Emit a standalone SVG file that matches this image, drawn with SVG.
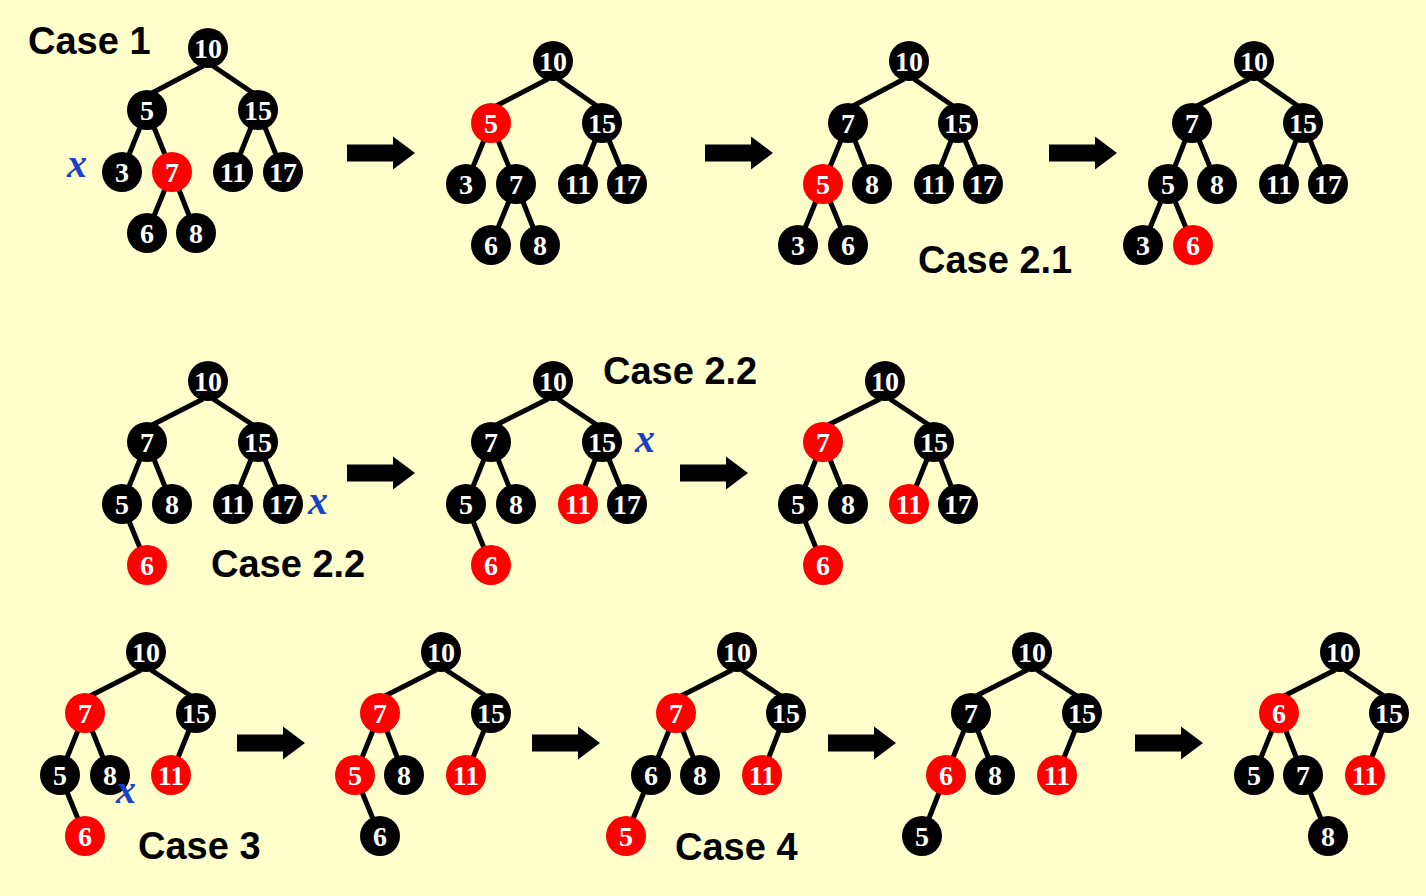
<svg xmlns="http://www.w3.org/2000/svg" xmlns:xlink="http://www.w3.org/1999/xlink" width="1426" height="896" viewBox="0 0 1426 896">
<style>
.b circle{fill:#000}
.r circle{fill:#ff0000}
.node text{font-family:"Liberation Serif","Times New Roman",serif;font-weight:bold;font-size:28px;fill:#fff;text-anchor:middle}
.edges line{stroke:#000;stroke-width:5}
.case{font-family:"Liberation Sans",Arial,sans-serif;font-weight:bold;font-size:38px;fill:#000}
.x{font-family:"Liberation Serif","Times New Roman",serif;font-weight:bold;font-style:italic;font-size:40px;fill:#1a40c8}
</style>
<defs>
<path id="arr" d="M0,-8.5 H46 V-16.5 L68,0 L46,16.5 V8.5 H0 Z" fill="#000"/>
</defs>
<rect width="1426" height="896" fill="#ffffcc"/>
<g id="connectors" class="edges">
<!-- T1 -->
<line x1="203" y1="66" x2="152" y2="93"/><line x1="213" y1="66" x2="253" y2="93"/>
<line x1="147" y1="110" x2="122" y2="172"/><line x1="147" y1="110" x2="172" y2="172"/>
<line x1="258" y1="110" x2="233" y2="172"/><line x1="258" y1="110" x2="283" y2="172"/>
<line x1="172" y1="172" x2="147" y2="233"/><line x1="172" y1="172" x2="196" y2="233"/>
<!-- T2 -->
<line x1="548" y1="79" x2="496" y2="106"/><line x1="558" y1="79" x2="597" y2="106"/>
<line x1="491" y1="123" x2="466" y2="184"/><line x1="491" y1="123" x2="516" y2="184"/>
<line x1="602" y1="123" x2="578" y2="184"/><line x1="602" y1="123" x2="627" y2="184"/>
<line x1="516" y1="184" x2="491" y2="245"/><line x1="516" y1="184" x2="540" y2="245"/>
<!-- T3 -->
<line x1="904" y1="79" x2="853" y2="106"/><line x1="914" y1="79" x2="953" y2="106"/>
<line x1="848" y1="123" x2="823" y2="184"/><line x1="848" y1="123" x2="872" y2="184"/>
<line x1="958" y1="123" x2="934" y2="184"/><line x1="958" y1="123" x2="983" y2="184"/>
<line x1="823" y1="184" x2="798" y2="245"/><line x1="823" y1="184" x2="848" y2="245"/>
<!-- T4 -->
<line x1="1249" y1="79" x2="1197" y2="106"/><line x1="1259" y1="79" x2="1298" y2="106"/>
<line x1="1192" y1="123" x2="1168" y2="184"/><line x1="1192" y1="123" x2="1217" y2="184"/>
<line x1="1303" y1="123" x2="1279" y2="184"/><line x1="1303" y1="123" x2="1328" y2="184"/>
<line x1="1168" y1="184" x2="1143" y2="245"/><line x1="1168" y1="184" x2="1193" y2="245"/>
<!-- T5 -->
<line x1="203" y1="399" x2="152" y2="425"/><line x1="213" y1="399" x2="253" y2="425"/>
<line x1="147" y1="442" x2="122" y2="504"/><line x1="147" y1="442" x2="172" y2="504"/>
<line x1="258" y1="442" x2="233" y2="504"/><line x1="258" y1="442" x2="283" y2="504"/>
<line x1="122" y1="504" x2="147" y2="565"/>
<!-- T6 -->
<line x1="548" y1="399" x2="496" y2="425"/><line x1="558" y1="399" x2="597" y2="425"/>
<line x1="491" y1="442" x2="466" y2="504"/><line x1="491" y1="442" x2="516" y2="504"/>
<line x1="602" y1="442" x2="578" y2="504"/><line x1="602" y1="442" x2="627" y2="504"/>
<line x1="466" y1="504" x2="491" y2="565"/>
<!-- T7 -->
<line x1="880" y1="399" x2="828" y2="425"/><line x1="890" y1="399" x2="929" y2="425"/>
<line x1="823" y1="442" x2="798" y2="504"/><line x1="823" y1="442" x2="848" y2="504"/>
<line x1="934" y1="442" x2="909" y2="504"/><line x1="934" y1="442" x2="958" y2="504"/>
<line x1="798" y1="504" x2="823" y2="565"/>
<!-- T8 -->
<line x1="141" y1="670" x2="90" y2="696"/><line x1="151" y1="670" x2="191" y2="696"/>
<line x1="85" y1="713" x2="60" y2="775"/><line x1="85" y1="713" x2="110" y2="775"/>
<line x1="196" y1="713" x2="171" y2="775"/>
<line x1="60" y1="775" x2="85" y2="836"/>
<!-- T9 -->
<line x1="436" y1="670" x2="385" y2="696"/><line x1="446" y1="670" x2="486" y2="696"/>
<line x1="380" y1="713" x2="355" y2="775"/><line x1="380" y1="713" x2="404" y2="775"/>
<line x1="491" y1="713" x2="466" y2="775"/>
<line x1="355" y1="775" x2="380" y2="836"/>
<!-- T10 -->
<line x1="732" y1="670" x2="681" y2="696"/><line x1="742" y1="670" x2="781" y2="696"/>
<line x1="676" y1="713" x2="651" y2="775"/><line x1="676" y1="713" x2="700" y2="775"/>
<line x1="786" y1="713" x2="762" y2="775"/>
<line x1="651" y1="775" x2="626" y2="836"/>
<!-- T11 -->
<line x1="1027" y1="670" x2="976" y2="696"/><line x1="1037" y1="670" x2="1077" y2="696"/>
<line x1="971" y1="713" x2="946" y2="775"/><line x1="971" y1="713" x2="995" y2="775"/>
<line x1="1082" y1="713" x2="1057" y2="775"/>
<line x1="946" y1="775" x2="922" y2="836"/>
<!-- T12 -->
<line x1="1335" y1="670" x2="1284" y2="696"/><line x1="1345" y1="670" x2="1384" y2="696"/>
<line x1="1279" y1="713" x2="1254" y2="775"/><line x1="1279" y1="713" x2="1303" y2="775"/>
<line x1="1389" y1="713" x2="1365" y2="775"/>
<line x1="1303" y1="775" x2="1328" y2="836"/>
</g>
<g id="arrows">
<use xlink:href="#arr" x="347" y="153"/>
<use xlink:href="#arr" x="705" y="153"/>
<use xlink:href="#arr" x="1049" y="153"/>
<use xlink:href="#arr" x="347" y="473"/>
<use xlink:href="#arr" x="680" y="473"/>
<use xlink:href="#arr" x="237" y="743"/>
<use xlink:href="#arr" x="532" y="743"/>
<use xlink:href="#arr" x="828" y="743"/>
<use xlink:href="#arr" x="1135" y="743"/>
</g>
<!-- T1 -->
<g id="t1-10" class="node b"><circle cx="208" cy="48" r="20"/><text x="208" y="58">10</text></g>
<g id="t1-5" class="node b"><circle cx="147" cy="110" r="20"/><text x="147" y="120">5</text></g>
<g id="t1-15" class="node b"><circle cx="258" cy="110" r="20"/><text x="258" y="120">15</text></g>
<g id="t1-3" class="node b"><circle cx="122" cy="172" r="20"/><text x="122" y="182">3</text></g>
<g id="t1-7" class="node r"><circle cx="172" cy="172" r="20"/><text x="172" y="182">7</text></g>
<g id="t1-11" class="node b"><circle cx="233" cy="172" r="20"/><text x="233" y="182">11</text></g>
<g id="t1-17" class="node b"><circle cx="283" cy="172" r="20"/><text x="283" y="182">17</text></g>
<g id="t1-6" class="node b"><circle cx="147" cy="233" r="20"/><text x="147" y="243">6</text></g>
<g id="t1-8" class="node b"><circle cx="196" cy="233" r="20"/><text x="196" y="243">8</text></g>
<!-- T2 -->
<g id="t2-10" class="node b"><circle cx="553" cy="61" r="20"/><text x="553" y="71">10</text></g>
<g id="t2-5" class="node r"><circle cx="491" cy="123" r="20"/><text x="491" y="133">5</text></g>
<g id="t2-15" class="node b"><circle cx="602" cy="123" r="20"/><text x="602" y="133">15</text></g>
<g id="t2-3" class="node b"><circle cx="466" cy="184" r="20"/><text x="466" y="194">3</text></g>
<g id="t2-7" class="node b"><circle cx="516" cy="184" r="20"/><text x="516" y="194">7</text></g>
<g id="t2-11" class="node b"><circle cx="578" cy="184" r="20"/><text x="578" y="194">11</text></g>
<g id="t2-17" class="node b"><circle cx="627" cy="184" r="20"/><text x="627" y="194">17</text></g>
<g id="t2-6" class="node b"><circle cx="491" cy="245" r="20"/><text x="491" y="255">6</text></g>
<g id="t2-8" class="node b"><circle cx="540" cy="245" r="20"/><text x="540" y="255">8</text></g>
<!-- T3 -->
<g id="t3-10" class="node b"><circle cx="909" cy="61" r="20"/><text x="909" y="71">10</text></g>
<g id="t3-7" class="node b"><circle cx="848" cy="123" r="20"/><text x="848" y="133">7</text></g>
<g id="t3-15" class="node b"><circle cx="958" cy="123" r="20"/><text x="958" y="133">15</text></g>
<g id="t3-5" class="node r"><circle cx="823" cy="184" r="20"/><text x="823" y="194">5</text></g>
<g id="t3-8" class="node b"><circle cx="872" cy="184" r="20"/><text x="872" y="194">8</text></g>
<g id="t3-11" class="node b"><circle cx="934" cy="184" r="20"/><text x="934" y="194">11</text></g>
<g id="t3-17" class="node b"><circle cx="983" cy="184" r="20"/><text x="983" y="194">17</text></g>
<g id="t3-3" class="node b"><circle cx="798" cy="245" r="20"/><text x="798" y="255">3</text></g>
<g id="t3-6" class="node b"><circle cx="848" cy="245" r="20"/><text x="848" y="255">6</text></g>
<!-- T4 -->
<g id="t4-10" class="node b"><circle cx="1254" cy="61" r="20"/><text x="1254" y="71">10</text></g>
<g id="t4-7" class="node b"><circle cx="1192" cy="123" r="20"/><text x="1192" y="133">7</text></g>
<g id="t4-15" class="node b"><circle cx="1303" cy="123" r="20"/><text x="1303" y="133">15</text></g>
<g id="t4-5" class="node b"><circle cx="1168" cy="184" r="20"/><text x="1168" y="194">5</text></g>
<g id="t4-8" class="node b"><circle cx="1217" cy="184" r="20"/><text x="1217" y="194">8</text></g>
<g id="t4-11" class="node b"><circle cx="1279" cy="184" r="20"/><text x="1279" y="194">11</text></g>
<g id="t4-17" class="node b"><circle cx="1328" cy="184" r="20"/><text x="1328" y="194">17</text></g>
<g id="t4-3" class="node b"><circle cx="1143" cy="245" r="20"/><text x="1143" y="255">3</text></g>
<g id="t4-6" class="node r"><circle cx="1193" cy="245" r="20"/><text x="1193" y="255">6</text></g>
<!-- T5 -->
<g id="t5-10" class="node b"><circle cx="208" cy="381" r="20"/><text x="208" y="391">10</text></g>
<g id="t5-7" class="node b"><circle cx="147" cy="442" r="20"/><text x="147" y="452">7</text></g>
<g id="t5-15" class="node b"><circle cx="258" cy="442" r="20"/><text x="258" y="452">15</text></g>
<g id="t5-5" class="node b"><circle cx="122" cy="504" r="20"/><text x="122" y="514">5</text></g>
<g id="t5-8" class="node b"><circle cx="172" cy="504" r="20"/><text x="172" y="514">8</text></g>
<g id="t5-11" class="node b"><circle cx="233" cy="504" r="20"/><text x="233" y="514">11</text></g>
<g id="t5-17" class="node b"><circle cx="283" cy="504" r="20"/><text x="283" y="514">17</text></g>
<g id="t5-6" class="node r"><circle cx="147" cy="565" r="20"/><text x="147" y="575">6</text></g>
<!-- T6 -->
<g id="t6-10" class="node b"><circle cx="553" cy="381" r="20"/><text x="553" y="391">10</text></g>
<g id="t6-7" class="node b"><circle cx="491" cy="442" r="20"/><text x="491" y="452">7</text></g>
<g id="t6-15" class="node b"><circle cx="602" cy="442" r="20"/><text x="602" y="452">15</text></g>
<g id="t6-5" class="node b"><circle cx="466" cy="504" r="20"/><text x="466" y="514">5</text></g>
<g id="t6-8" class="node b"><circle cx="516" cy="504" r="20"/><text x="516" y="514">8</text></g>
<g id="t6-11" class="node r"><circle cx="578" cy="504" r="20"/><text x="578" y="514">11</text></g>
<g id="t6-17" class="node b"><circle cx="627" cy="504" r="20"/><text x="627" y="514">17</text></g>
<g id="t6-6" class="node r"><circle cx="491" cy="565" r="20"/><text x="491" y="575">6</text></g>
<!-- T7 -->
<g id="t7-10" class="node b"><circle cx="885" cy="381" r="20"/><text x="885" y="391">10</text></g>
<g id="t7-7" class="node r"><circle cx="823" cy="442" r="20"/><text x="823" y="452">7</text></g>
<g id="t7-15" class="node b"><circle cx="934" cy="442" r="20"/><text x="934" y="452">15</text></g>
<g id="t7-5" class="node b"><circle cx="798" cy="504" r="20"/><text x="798" y="514">5</text></g>
<g id="t7-8" class="node b"><circle cx="848" cy="504" r="20"/><text x="848" y="514">8</text></g>
<g id="t7-11" class="node r"><circle cx="909" cy="504" r="20"/><text x="909" y="514">11</text></g>
<g id="t7-17" class="node b"><circle cx="958" cy="504" r="20"/><text x="958" y="514">17</text></g>
<g id="t7-6" class="node r"><circle cx="823" cy="565" r="20"/><text x="823" y="575">6</text></g>
<!-- T8 -->
<g id="t8-10" class="node b"><circle cx="146" cy="652" r="20"/><text x="146" y="662">10</text></g>
<g id="t8-7" class="node r"><circle cx="85" cy="713" r="20"/><text x="85" y="723">7</text></g>
<g id="t8-15" class="node b"><circle cx="196" cy="713" r="20"/><text x="196" y="723">15</text></g>
<g id="t8-5" class="node b"><circle cx="60" cy="775" r="20"/><text x="60" y="785">5</text></g>
<g id="t8-8" class="node b"><circle cx="110" cy="775" r="20"/><text x="110" y="785">8</text></g>
<g id="t8-11" class="node r"><circle cx="171" cy="775" r="20"/><text x="171" y="785">11</text></g>
<g id="t8-6" class="node r"><circle cx="85" cy="836" r="20"/><text x="85" y="846">6</text></g>
<!-- T9 -->
<g id="t9-10" class="node b"><circle cx="441" cy="652" r="20"/><text x="441" y="662">10</text></g>
<g id="t9-7" class="node r"><circle cx="380" cy="713" r="20"/><text x="380" y="723">7</text></g>
<g id="t9-15" class="node b"><circle cx="491" cy="713" r="20"/><text x="491" y="723">15</text></g>
<g id="t9-5" class="node r"><circle cx="355" cy="775" r="20"/><text x="355" y="785">5</text></g>
<g id="t9-8" class="node b"><circle cx="404" cy="775" r="20"/><text x="404" y="785">8</text></g>
<g id="t9-11" class="node r"><circle cx="466" cy="775" r="20"/><text x="466" y="785">11</text></g>
<g id="t9-6" class="node b"><circle cx="380" cy="836" r="20"/><text x="380" y="846">6</text></g>
<!-- T10 -->
<g id="t10-10" class="node b"><circle cx="737" cy="652" r="20"/><text x="737" y="662">10</text></g>
<g id="t10-7" class="node r"><circle cx="676" cy="713" r="20"/><text x="676" y="723">7</text></g>
<g id="t10-15" class="node b"><circle cx="786" cy="713" r="20"/><text x="786" y="723">15</text></g>
<g id="t10-6" class="node b"><circle cx="651" cy="775" r="20"/><text x="651" y="785">6</text></g>
<g id="t10-8" class="node b"><circle cx="700" cy="775" r="20"/><text x="700" y="785">8</text></g>
<g id="t10-11" class="node r"><circle cx="762" cy="775" r="20"/><text x="762" y="785">11</text></g>
<g id="t10-5" class="node r"><circle cx="626" cy="836" r="20"/><text x="626" y="846">5</text></g>
<!-- T11 -->
<g id="t11-10" class="node b"><circle cx="1032" cy="652" r="20"/><text x="1032" y="662">10</text></g>
<g id="t11-7" class="node b"><circle cx="971" cy="713" r="20"/><text x="971" y="723">7</text></g>
<g id="t11-15" class="node b"><circle cx="1082" cy="713" r="20"/><text x="1082" y="723">15</text></g>
<g id="t11-6" class="node r"><circle cx="946" cy="775" r="20"/><text x="946" y="785">6</text></g>
<g id="t11-8" class="node b"><circle cx="995" cy="775" r="20"/><text x="995" y="785">8</text></g>
<g id="t11-11" class="node r"><circle cx="1057" cy="775" r="20"/><text x="1057" y="785">11</text></g>
<g id="t11-5" class="node b"><circle cx="922" cy="836" r="20"/><text x="922" y="846">5</text></g>
<!-- T12 -->
<g id="t12-10" class="node b"><circle cx="1340" cy="652" r="20"/><text x="1340" y="662">10</text></g>
<g id="t12-6" class="node r"><circle cx="1279" cy="713" r="20"/><text x="1279" y="723">6</text></g>
<g id="t12-15" class="node b"><circle cx="1389" cy="713" r="20"/><text x="1389" y="723">15</text></g>
<g id="t12-5" class="node b"><circle cx="1254" cy="775" r="20"/><text x="1254" y="785">5</text></g>
<g id="t12-7" class="node b"><circle cx="1303" cy="775" r="20"/><text x="1303" y="785">7</text></g>
<g id="t12-11" class="node r"><circle cx="1365" cy="775" r="20"/><text x="1365" y="785">11</text></g>
<g id="t12-8" class="node b"><circle cx="1328" cy="836" r="20"/><text x="1328" y="846">8</text></g>
<g id="labels">
<text class="case" x="28" y="54">Case 1</text>
<text class="case" x="918" y="273">Case 2.1</text>
<text class="case" x="211" y="577">Case 2.2</text>
<text class="case" x="603" y="384">Case 2.2</text>
<text class="case" x="138" y="859">Case 3</text>
<text class="case" x="675" y="860">Case 4</text>
<text class="x" x="67" y="177">x</text>
<text class="x" x="308" y="514">x</text>
<text class="x" x="635" y="452">x</text>
<text class="x" x="116" y="803">x</text>
</g>
</svg>
